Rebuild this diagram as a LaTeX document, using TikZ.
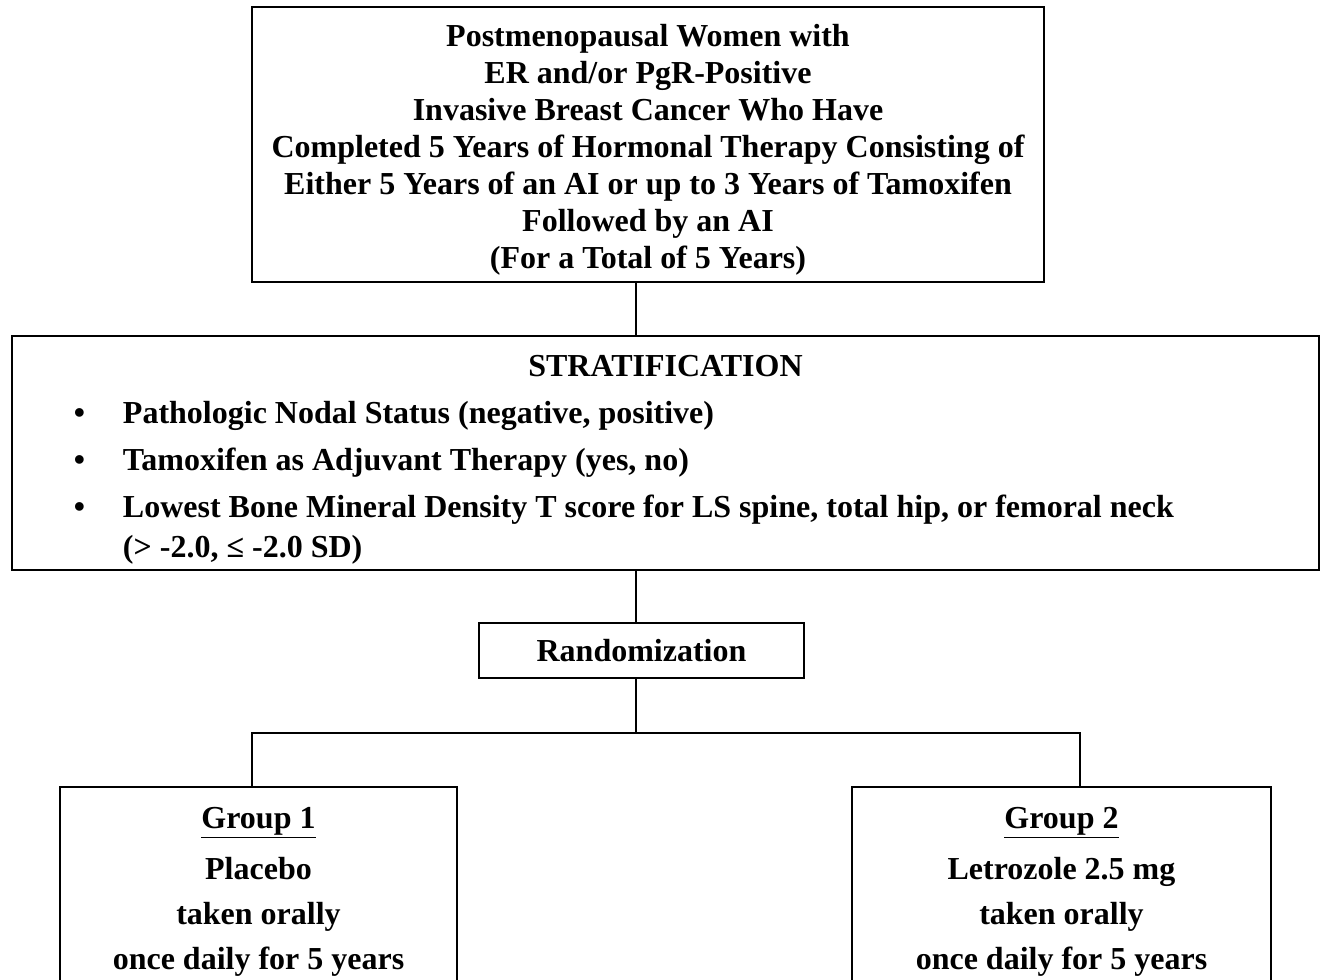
\documentclass[tikz,border=0pt]{standalone}
\usepackage{fontspec}
\setmainfont{Liberation Serif}
\usetikzlibrary{positioning,calc}
\tikzset{
  box/.style={rectangle, draw=black, line width=1.9pt, inner sep=0pt, align=center,
              font=\fontsize{32}{37}\selectfont\bfseries},
  stratbox/.style={box, align=left, font=\fontsize{32}{40}\selectfont\bfseries},
  groupbox/.style={box, font=\fontsize{32}{45}\selectfont\bfseries},
  link/.style={draw=black, line width=1.9pt},
}
% invisible strut, pushes the text block down a little
\newcommand{\topstrut}[1]{\rule{0pt}{#1}}

\begin{document}
\begin{tikzpicture}[x=1pt, y=-1pt]
\clip (0,0) rectangle (1321,979);

\node[box, minimum width=792pt, minimum height=275pt] (pop) at (648,144.5)
  {\topstrut{32pt}Postmenopausal Women with\\ER and/or PgR-Positive\\Invasive Breast Cancer Who Have\\
   Completed 5 Years of Hormonal Therapy Consisting of\\
   Either 5 Years of an AI or up to 3 Years of Tamoxifen\\Followed by an AI\\
   (For a Total of 5 Years)};

\node[stratbox, minimum width=1307pt, minimum height=234pt] (strat) at (665.5,453)
  {\topstrut{35pt}\makebox[1307pt]{STRATIFICATION}\\[7pt]
   \hspace*{111pt}\llap{\textbullet\hspace{38pt}}Pathologic Nodal Status (negative, positive)\\[7pt]
   \hspace*{111pt}\llap{\textbullet\hspace{38pt}}Tamoxifen as Adjuvant Therapy (yes, no)\\[7pt]
   \hspace*{111pt}\llap{\textbullet\hspace{38pt}}Lowest Bone Mineral Density T score for LS spine, total hip, or femoral neck\\
   \hspace*{111pt}(> -2.0, ≤ -2.0 SD)};

\node[box, minimum width=325pt, minimum height=55pt] (rand) at (641.5,650.5) {Randomization};

\node[groupbox, minimum width=397pt, minimum height=200pt] (g1) at (258.5,887)
  {\topstrut{31pt}\underline{Group 1}\\[6pt]Placebo\\taken orally\\once daily for 5 years};
\node[groupbox, minimum width=419pt, minimum height=200pt] (g2) at (1061.5,887)
  {\topstrut{31pt}\underline{Group 2}\\[6pt]Letrozole 2.5 mg\\taken orally\\once daily for 5 years};

% tree lines
\coordinate (spine) at (636,733);
\coordinate (bl) at (252,733);
\coordinate (br) at (1080,733);
\draw[link] (pop.south -| spine) -- (strat.north -| spine);
\draw[link] (strat.south -| spine) -- (rand.north -| spine);
\draw[link] (rand.south -| spine) -- (spine);
\draw[link] (bl |- g1.north) -- (bl) -- (br) -- (br |- g2.north);
\end{tikzpicture}
\end{document}
